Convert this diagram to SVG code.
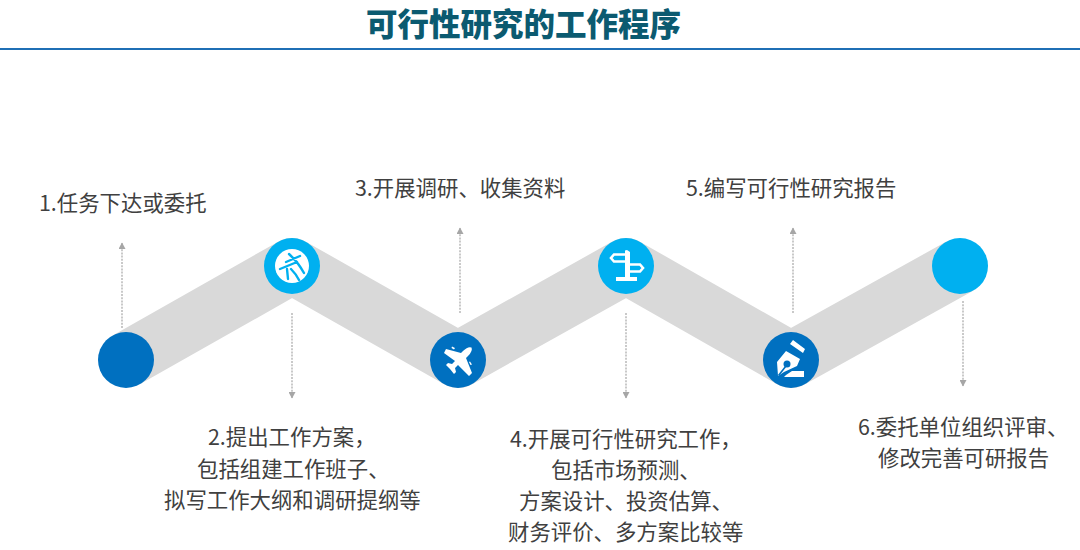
<svg xmlns="http://www.w3.org/2000/svg" width="1080" height="550" viewBox="0 0 1080 550">
<style>
text{font-family:"Noto Sans CJK SC","Liberation Sans",sans-serif;}
.t{font-size:21.4px;fill:#404040;}
.title{font-size:31.5px;font-weight:900;fill:#0b5a70;}
.dk{fill:#0070c0;}
.lt{fill:#00b0f0;}
.arr{stroke:#a6a6a6;stroke-width:1.2;stroke-dasharray:2 1.2;fill:none;marker-end:url(#ah);}
.w{fill:#fff;}
</style>
<defs>
<marker id="ah" markerUnits="userSpaceOnUse" markerWidth="7" markerHeight="7" refX="6" refY="3.5" orient="auto"><path d="M0 0L6.5 3.5L0 7Z" fill="#a6a6a6"/></marker>
</defs>
<rect width="1080" height="550" fill="#fff"/>
<g id="header">
<text class="title" x="366" y="36">可行性研究的工作程序</text>
<rect x="0" y="48" width="1080" height="2" fill="#1f6fb5"/>
</g>
<g id="band"><polyline points="126,360 292,266 458,360 626,266 791,360 960,266" fill="none" stroke="#d9d9d9" stroke-width="56" stroke-linejoin="round"/></g>
<g id="connectors">
<line class="arr" x1="122" y1="328" x2="122" y2="243"/>
<line class="arr" x1="292" y1="313" x2="292" y2="398"/>
<line class="arr" x1="460" y1="313" x2="460" y2="228"/>
<line class="arr" x1="626" y1="313" x2="626" y2="398"/>
<line class="arr" x1="793" y1="313" x2="793" y2="228"/>
<line class="arr" x1="963" y1="301" x2="963" y2="386"/>
</g>
<g id="node1"><circle class="dk" cx="126" cy="360" r="28"/><text class="t" x="39" y="211">1.任务下达或委托</text></g>
<g id="node2"><circle class="lt" cx="292" cy="266" r="28"/><circle class="w" cx="292" cy="266" r="17"/>
<path d="M286 262L300 256M280 269L297 262M289 254Q298 262 304 273M287 269L288 279M291 269Q296 274 299 280" fill="none" stroke="#00b0f0" stroke-width="2.4" stroke-linecap="round"/>
<text class="t" x="208" y="445">2.提出工作方案，</text><text class="t" x="197" y="477">包括组建工作班子、</text><text class="t" x="164" y="508">拟写工作大纲和调研提纲等</text></g>
<g id="node3"><circle class="dk" cx="458" cy="360" r="28"/>
<path class="w" d="M471.500 347.500Q473 351 468 356L466 358L472 373L469 376L458 365L455 368L456 372L454 374L450 369L446 365L448 363L452 364L455 361L444 353L446 349L461 353L463 351Q468 346 471.500 347.500ZM452 346.500L455 348L454 349.500L451.500 348ZM470 361.500L472 364.500L470.500 365L469 362Z"/>
<text class="t" x="355" y="196">3.开展调研、收集资料</text></g>
<g id="node4"><circle class="lt" cx="626" cy="266" r="28"/>
<path d="M628 254.500H614L611 258L614 261.500H628M628 264.500H640L643 268L640 271.500H628" fill="none" stroke="#fff" stroke-width="2.600"/>
<path class="w" d="M625 250.500L627 250L630 252V277H637V281H616V277H625Z"/>
<text class="t" x="510" y="447">4.开展可行性研究工作，</text><text class="t" x="551" y="478">包括市场预测、</text><text class="t" x="519" y="509">方案设计、投资估算、</text><text class="t" x="508" y="540">财务评价、多方案比较等</text></g>
<g id="node5"><circle class="dk" cx="791" cy="360" r="28"/>
<path class="w" d="M790 344L793 340L805 349L803 353ZM786 351L800 359L797 366L784 372L778 376L777 362ZM786 375L792 371H804V377H784Z"/>
<circle cx="787" cy="364" r="3.500" fill="#0070c0"/><path d="M786 366L778.500 375.500" stroke="#0070c0" stroke-width="1.600"/>
<text class="t" x="686" y="196">5.编写可行性研究报告</text></g>
<g id="node6"><circle class="lt" cx="960" cy="266" r="28"/>
<text class="t" x="858" y="435">6.委托单位组织评审、</text><text class="t" x="878" y="466">修改完善可研报告</text></g>
</svg>
